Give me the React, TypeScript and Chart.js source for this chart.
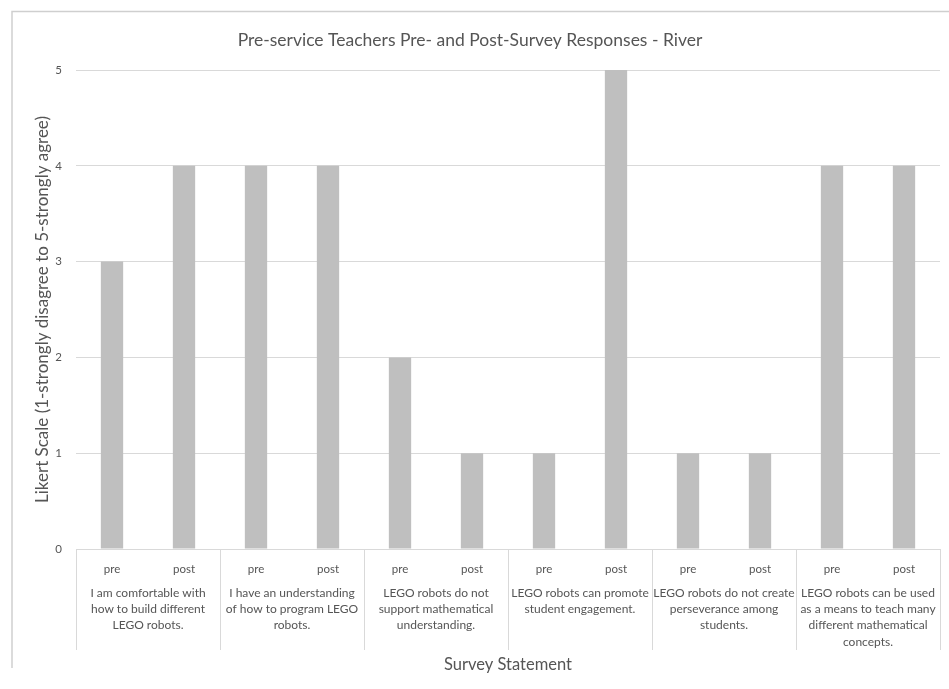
import React, { useEffect, useRef } from "react";
import { Chart, registerables } from "chart.js";

Chart.register(...registerables);

const chartTitle = "Pre-service Teachers Pre- and Post-Survey Responses - River";
const yAxisTitle = "Likert Scale (1-strongly disagree to 5-strongly agree)";
const xAxisTitle = "Survey Statement";
const phases = ["pre", "post"];
const statements: string[][] = [
  ["I am comfortable with", "how to build different", "LEGO robots."],
  ["I have an understanding", "of how to program LEGO", "robots."],
  ["LEGO robots do not", "support mathematical", "understanding."],
  ["LEGO robots can promote", "student engagement."],
  ["LEGO robots do not create", "perseverance among", "students."],
  ["LEGO robots can be used", "as a means to teach many", "different mathematical", "concepts."],
];
const preValues = [3, 4, 2, 1, 1, 4];
const postValues = [4, 4, 1, 5, 1, 4];
const yTicks = [0, 1, 2, 3, 4, 5];

const FONT = "Lato, 'Open Sans', sans-serif";
const TEXT = "#555555";
const LINE = "#d9d9d9";

export default function App() {
  const ref = useRef<HTMLCanvasElement | null>(null);

  useEffect(() => {
    document.body.style.margin = "0";
    const labels: string[] = [];
    const values: number[] = [];
    statements.forEach((_, i) => {
      labels.push(phases[0]);
      values.push(preValues[i]);
      labels.push(phases[1]);
      values.push(postValues[i]);
    });

    const groupPlugin = {
      id: "groupPlugin",
      beforeDraw(chart: any) {
        const ctx = chart.ctx;
        ctx.save();
        ctx.fillStyle = "#ffffff";
        ctx.fillRect(0, 0, chart.width, chart.height);
        ctx.strokeStyle = "#cfcfcf";
        ctx.lineWidth = 1.5;
        ctx.beginPath();
        ctx.moveTo(12, 668);
        ctx.lineTo(12, 11.5);
        ctx.lineTo(chart.width, 11.5);
        ctx.stroke();
        ctx.restore();
      },
      afterDraw(chart: any) {
        const ctx = chart.ctx;
        const x = chart.scales.x;
        const area = chart.chartArea;
        const n = labels.length;
        const step = x.getPixelForValue(1) - x.getPixelForValue(0);
        ctx.save();
        ctx.strokeStyle = LINE;
        ctx.lineWidth = 1;
        for (let g = 0; g <= statements.length; g++) {
          let px: number;
          if (g * 2 >= n) px = x.getPixelForValue(n - 1) + step / 2;
          else px = x.getPixelForValue(g * 2) - step / 2;
          const sx = Math.round(px) + 0.5;
          ctx.beginPath();
          ctx.moveTo(sx, area.bottom);
          ctx.lineTo(sx, 650);
          ctx.stroke();
        }
        ctx.fillStyle = TEXT;
        ctx.font = `12px ${FONT}`;
        ctx.textAlign = "center";
        ctx.textBaseline = "middle";
        statements.forEach((lines, g) => {
          const cx = (x.getPixelForValue(g * 2) + x.getPixelForValue(g * 2 + 1)) / 2;
          lines.forEach((ln, k) => {
            ctx.fillText(ln, cx, 593 + k * 16.3);
          });
        });
        ctx.restore();
      },
    };

    const chart = new Chart(ref.current as HTMLCanvasElement, {
      type: "bar",
      data: {
        labels,
        datasets: [
          {
            data: values,
            backgroundColor: "#bfbfbf",
            borderWidth: 0,
            categoryPercentage: 1,
            barPercentage: 0.31,
          },
        ],
      },
      options: {
        animation: false,
        responsive: false,
        maintainAspectRatio: false,
        layout: { padding: { left: 0, right: 9, top: 0, bottom: 0 } },
        plugins: {
          legend: { display: false },
          tooltip: { enabled: false },
          title: {
            display: true,
            text: chartTitle,
            color: TEXT,
            font: { family: FONT, size: 17.5, weight: "normal" },
            padding: { top: 30, bottom: 19 },
          },
        },
        scales: {
          x: {
            grid: { display: false, drawTicks: false },
            border: { display: true, color: LINE, width: 1 },
            ticks: {
              color: TEXT,
              font: { family: FONT, size: 11.5 },
              padding: 13,
              maxRotation: 0,
              autoSkip: false,
            },
            title: {
              display: true,
              text: xAxisTitle,
              color: TEXT,
              font: { family: FONT, size: 16.5 },
              padding: { top: 0, bottom: 14 },
            },
            afterFit(scale: any) {
              scale.height = 140;
            },
          },
          y: {
            min: 0,
            max: 5,
            afterBuildTicks(scale: any) {
              scale.ticks = yTicks.map((v) => ({ value: v }));
            },
            grid: { color: LINE, drawTicks: false },
            border: { display: false },
            ticks: {
              color: TEXT,
              font: { family: FONT, size: 11.5 },
              padding: 14,
            },
            title: {
              display: true,
              text: yAxisTitle,
              color: TEXT,
              font: { family: FONT, size: 17 },
              padding: { top: 32, bottom: 0 },
            },
            afterFit(scale: any) {
              scale.width = 76;
            },
          },
        },
      },
      plugins: [groupPlugin],
    });
    return () => chart.destroy();
  }, []);

  return (
    <div style={{ width: 949, height: 689 }}>
      <canvas ref={ref} width={949} height={689} style={{ display: "block" }} />
    </div>
  );
}
